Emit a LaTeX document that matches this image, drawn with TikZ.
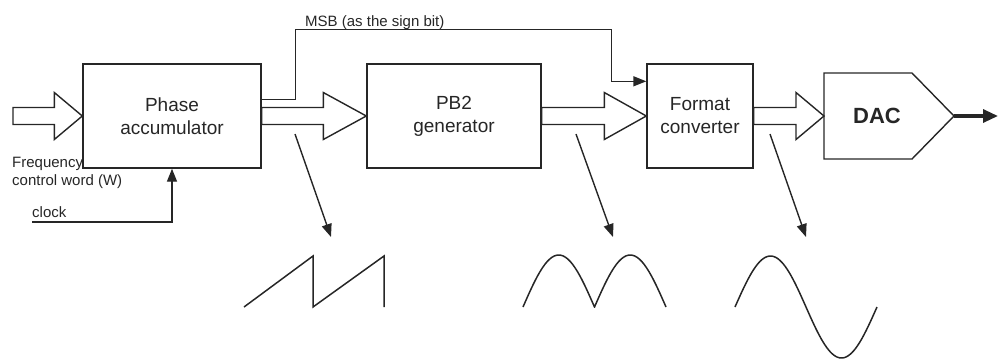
\documentclass[tikz,border=0pt]{standalone}
\usepackage{fontspec}
\setmainfont{Liberation Sans}
\usetikzlibrary{arrows.meta,calc}

\definecolor{ink}{RGB}{38,38,38}

% wide hollow bus arrow: start anchor, tip anchor, head length
\newcommand\fatarrow[3]{%
  \draw[busarrow] ($(#1)+(0,-8.5)$) -- ($(#2)+(-#3,-8.5)$) -- ($(#2)+(-#3,-23.5)$)
    -- (#2) -- ($(#2)+(-#3,23.5)$) -- ($(#2)+(-#3,8.5)$) -- ($(#1)+(0,8.5)$) -- cycle;}

\begin{document}
\begin{tikzpicture}[x=1pt,y=-1pt,
  block/.style={draw=ink, line width=1.4pt, inner sep=0pt, align=center,
    font=\fontsize{19}{23}\selectfont, text=ink, minimum height=104pt},
  small/.style={inner sep=0pt, text=ink, font=\fontsize{15}{18}\selectfont, align=left},
  busarrow/.style={draw=ink, line width=1.4pt, line join=miter},
  sig/.style={draw=ink, line width=1.4pt, -{Triangle[length=13pt,width=10pt]}},
  wave/.style={draw=ink, line width=1.5pt, line join=miter},
]
\useasboundingbox (0,0) rectangle (999,360);

% processing blocks
\node[block, minimum width=178pt] (pa) at (172,116) {Phase\\accumulator};
\node[block, minimum width=174pt] (pb) at (454,116) {PB2\\generator};
\node[block, minimum width=106pt] (fc) at (700,116) {Format\\converter};

% DAC pentagon
\coordinate (dacin) at (824,116);
\coordinate (dacout) at (954,116);
\draw[draw=ink, line width=1.4pt, line join=miter] (824,73) -- (912,73) -- (dacout) -- (912,159) -- (824,159) -- cycle;
\node[inner sep=0pt, text=ink, font=\bfseries\fontsize{22}{26}\selectfont] (dac) at (877,116) {DAC};

% bus arrows
\coordinate (fcw) at (13,116);
\fatarrow{fcw}{pa.west}{28}
\fatarrow{pa.east}{pb.west}{43}
\fatarrow{pb.east}{fc.west}{42}
\fatarrow{fc.east}{dacin}{28}

% analog output
\coordinate (aout) at (998,116);
\draw[draw=ink, line width=3.2pt, -{Triangle[length=15pt,width=13pt]}] (dacout) -- (aout);

% inputs
\node[small, anchor=north west] (fw) at (12,157) {Frequency\\control word (W)};
\coordinate (clk) at (32,222);
\node[small, anchor=base west] (clktxt) at (32,217) {clock};
\draw[sig] (clk) -| (pa.south);

% sign bit path
\draw[sig] ($(pa.north east)+(0,36)$) -- ++(34,0) -- ++(0,-70)
  -| ($(fc.north west)+(-35,18)$) -- ($(fc.north west)+(0,18)$);
\node[small, anchor=base west] (msb) at (305,26) {MSB (as the sign bit)};

% waveform taps
\coordinate (t1) at (295,134); \coordinate (w1) at (331,237);
\coordinate (t2) at (576,134); \coordinate (w2) at (613,237);
\coordinate (t3) at (770,134); \coordinate (w3) at (806,237);
\draw[sig] (t1) -- (w1);
\draw[sig] (t2) -- (w2);
\draw[sig] (t3) -- (w3);

% sawtooth phase
\draw[wave] (244,307) -- (313,256) -- (313,307) -- (384,256) -- (384,307);
% rectified sine
\draw[wave] plot[domain=0:180, samples=40] ({523+0.3972*\x}, {307-52*sin(\x)})
  -- plot[domain=0:180, samples=40] ({594.5+0.3972*\x}, {307-52*sin(\x)});
% sine
\draw[wave] plot[domain=0:360, samples=80] ({735+0.3944*\x}, {307-51*sin(\x)});
\end{tikzpicture}
\end{document}
